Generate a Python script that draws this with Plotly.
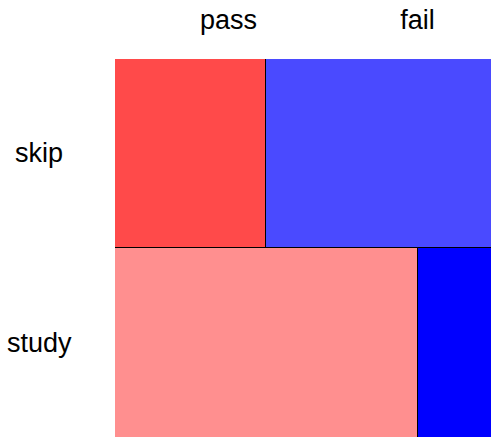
import plotly.graph_objects as go

rows = ["skip", "study"]
cols = ["pass", "fail"]
counts = {
    "skip": [40, 60],
    "study": [81, 20],
}
colors = {
    "skip": ["#ff4a4a", "#4a4aff"],
    "study": ["#ff8f8f", "#0000ff"],
}

grand = sum(sum(v) for v in counts.values())
fig = go.Figure()
col_centers = {c: [] for c in cols}
row_centers = []
y0 = 0.0
for i, r in enumerate(rows):
    vals = counts[r]
    tot = sum(vals)
    h = tot / grand
    yc = y0 + h / 2
    row_centers.append(yc)
    start = 0.0
    for j, c in enumerate(cols):
        frac = vals[j] / tot
        fig.add_trace(go.Bar(
            y=[yc], x=[frac], base=[start], width=h,
            orientation="h",
            marker=dict(color=colors[r][j], line=dict(color="black", width=1)),
            showlegend=False, hoverinfo="skip",
        ))
        col_centers[c].append(start + frac / 2)
        start += frac
    y0 += h

col_tick = [sum(col_centers[c]) / len(col_centers[c]) for c in cols]

for r, yc in zip(rows, row_centers):
    fig.add_annotation(x=-0.201, xref="paper", y=yc, yref="y", text=r,
                       showarrow=False, xanchor="center", yanchor="middle",
                       font=dict(size=27))

fig.update_layout(
    width=493, height=438,
    margin=dict(l=115, r=0, t=59, b=0),
    barmode="overlay", bargap=0,
    plot_bgcolor="white", paper_bgcolor="white",
    font=dict(family="Liberation Sans, Arial, sans-serif", size=27, color="black"),
    xaxis=dict(range=[0, 1], side="top", tickvals=col_tick, ticktext=cols,
               showgrid=False, zeroline=False, showline=False, automargin=False,
               ticks="outside", ticklen=18, tickcolor="rgba(0,0,0,0)"),
    yaxis=dict(range=[1, 0], showticklabels=False,
               showgrid=False, zeroline=False, showline=False, automargin=False),
)
fig.write_html(
    "out.html",
    config={"displayModeBar": False},
    post_script="document.body.style.margin='0';document.body.style.overflow='hidden';",
)
